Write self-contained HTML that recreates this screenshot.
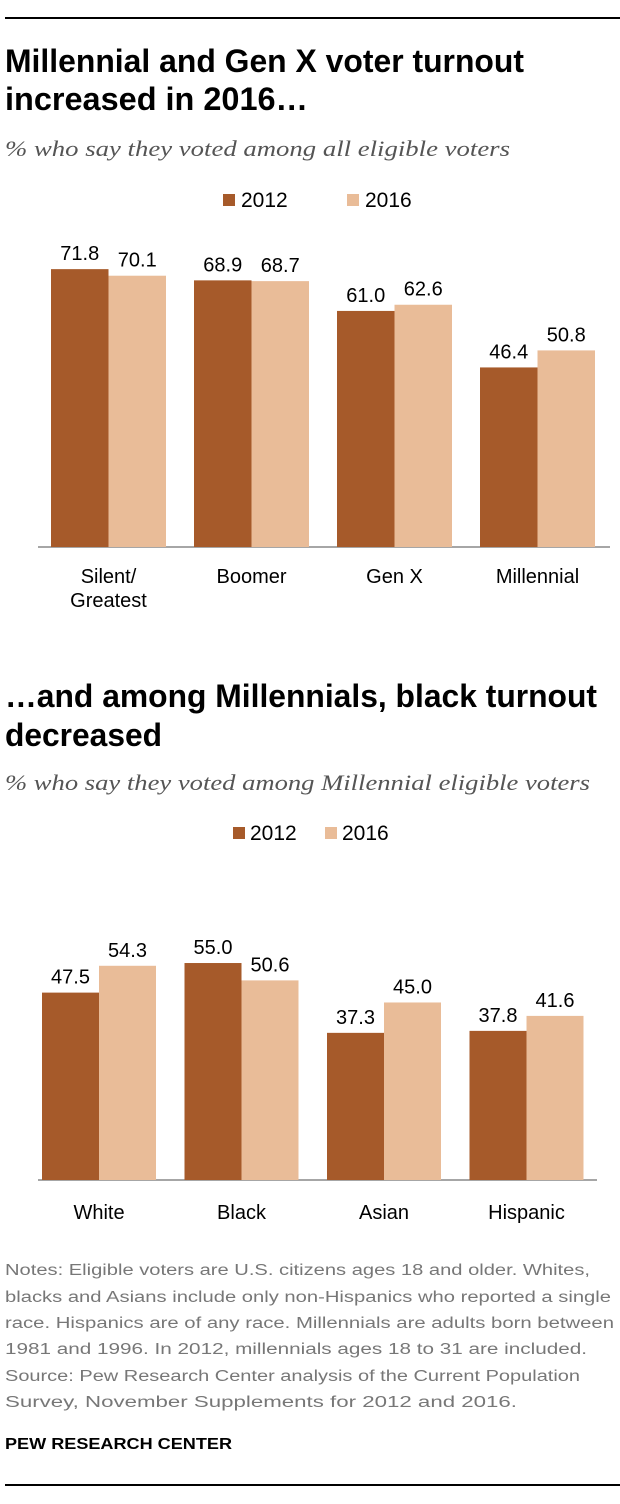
<!DOCTYPE html>
<html><head><meta charset="utf-8"><style>
html,body{margin:0;padding:0;background:#fff}
svg{display:block}
</style></head><body>
<svg id="s" width="620" height="1504" xmlns="http://www.w3.org/2000/svg" font-family="Liberation Sans, sans-serif">
<line x1="5" y1="18" x2="620" y2="18" stroke="#000" stroke-width="2"/>
<g font-weight="bold" font-size="32" fill="#000">
<text x="5" y="72" textLength="519" lengthAdjust="spacingAndGlyphs">Millennial and Gen X voter turnout</text>
<text x="5" y="110" textLength="303" lengthAdjust="spacingAndGlyphs">increased in 2016…</text>
</g>
<text x="5" y="156" font-family="Liberation Serif, serif" font-style="italic" font-size="22" fill="#555" textLength="505" lengthAdjust="spacingAndGlyphs">% who say they voted among all eligible voters</text>
<g font-size="21" fill="#000">
<rect x="223" y="194" width="12" height="12" fill="#a65a2a"/><text x="241" y="207">2012</text>
<rect x="347" y="194" width="12" height="12" fill="#e9bc98"/><text x="365" y="207">2016</text>
</g>
<g id="c1"></g>
<g font-weight="bold" font-size="32" fill="#000">
<text x="5" y="707" textLength="592" lengthAdjust="spacingAndGlyphs">…and among Millennials, black turnout</text>
<text x="5" y="746" textLength="157" lengthAdjust="spacingAndGlyphs">decreased</text>
</g>
<text x="5" y="790" font-family="Liberation Serif, serif" font-style="italic" font-size="22" fill="#555" textLength="585" lengthAdjust="spacingAndGlyphs">% who say they voted among Millennial eligible voters</text>
<g font-size="21" fill="#000">
<rect x="233" y="827" width="12" height="12" fill="#a65a2a"/><text x="250" y="840">2012</text>
<rect x="325" y="827" width="12" height="12" fill="#e9bc98"/><text x="342" y="840">2016</text>
</g>
<g id="c2"></g>
<g font-size="15.5" fill="#777">
<text x="5" y="1275" textLength="585" lengthAdjust="spacingAndGlyphs">Notes: Eligible voters are U.S. citizens ages 18 and older. Whites,</text>
<text x="5" y="1302" textLength="606" lengthAdjust="spacingAndGlyphs">blacks and Asians include only non-Hispanics who reported a single</text>
<text x="5" y="1328" textLength="609" lengthAdjust="spacingAndGlyphs">race. Hispanics are of any race. Millennials are adults born between</text>
<text x="5" y="1354" textLength="582" lengthAdjust="spacingAndGlyphs">1981 and 1996. In 2012, millennials ages 18 to 31 are included.</text>
<text x="5" y="1381" textLength="575" lengthAdjust="spacingAndGlyphs">Source: Pew Research Center analysis of the Current Population</text>
<text x="5" y="1407" textLength="512" lengthAdjust="spacingAndGlyphs">Survey, November Supplements for 2012 and 2016.</text>
</g>
<text x="5" y="1449" font-weight="bold" font-size="16" fill="#000" textLength="227" lengthAdjust="spacingAndGlyphs">PEW RESEARCH CENTER</text>
<line x1="5" y1="1485" x2="620" y2="1485" stroke="#000" stroke-width="2"/>
</svg>
<script>
const cats1 = [["Silent/","Greatest"],["Boomer"],["Gen X"],["Millennial"]];
const vals1_2012 = [71.8, 68.9, 61.0, 46.4];
const vals1_2016 = [70.1, 68.7, 62.6, 50.8];
const cats2 = [["White"],["Black"],["Asian"],["Hispanic"]];
const vals2_2012 = [47.5, 55.0, 37.3, 37.8];
const vals2_2016 = [54.3, 50.6, 45.0, 41.6];
const NS = "http://www.w3.org/2000/svg";
function mk(tag, attrs, parent){const e=document.createElementNS(NS,tag);for(const k in attrs)e.setAttribute(k,attrs[k]);parent.appendChild(e);return e;}
function draw(g, cats, a, b, cfg){
  const y = v => cfg.base - v*cfg.scale;
  const ax = mk('line',{x1:cfg.axX1,x2:cfg.axX2,y1:cfg.base,y2:cfg.base,stroke:'#888','stroke-width':1.5},g);
  
  
  cats.forEach((c,i)=>{
    const x0 = cfg.x0 + i*cfg.step;
    [[a[i],'#a65a2a','2012',0],[b[i],'#e9bc98','2016',1]].forEach(([v,col,yr,k])=>{
      const bx = x0 + k*cfg.bw;
      const r = mk('rect',{x:bx,y:y(v),width:cfg.bw,height:v*cfg.scale,fill:col},g);
      
      
      const t = mk('text',{x:bx+cfg.bw/2,y:y(v)-9,'text-anchor':'middle','font-size':20,fill:'#000'},g);
      t.textContent = v.toFixed(1);
      
      
    });
    c.forEach((line,j)=>{
      const t = mk('text',{x:x0+cfg.bw,y:cfg.labY+j*24,'text-anchor':'middle','font-size':20,fill:'#000'},g);
      t.textContent = line;
      
      
    });
  });
}
draw(document.getElementById('c1'),cats1,vals1_2012,vals1_2016,{base:547,scale:3.87,x0:51,step:143,bw:57.5,axX1:38,axX2:610,labY:583});
draw(document.getElementById('c2'),cats2,vals2_2012,vals2_2016,{base:1180,scale:3.945,x0:42,step:142.5,bw:57,axX1:38,axX2:597,labY:1219});
</script>
</body></html>
